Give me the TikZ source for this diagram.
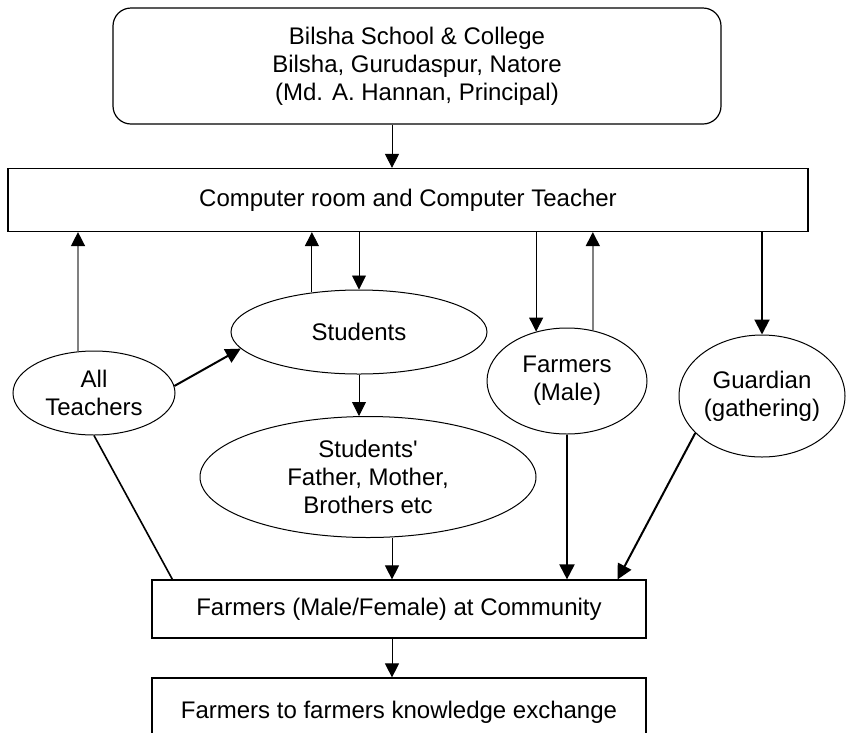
\documentclass[tikz,border=0pt]{standalone}
\usepackage{fontspec}
\setmainfont{Liberation Sans}
\usetikzlibrary{shapes.geometric,arrows.meta}

\begin{document}
\begin{tikzpicture}[x=1pt,y=-1pt,
        every node/.style={font=\fontsize{24}{28}\selectfont, align=center, inner sep=0pt},
        box/.style={draw, line width=1.2pt, rectangle},
        oval/.style={draw, line width=1pt, ellipse},
        thinarrow/.style={-{Triangle[length=14pt,width=14pt]}, line width=0.9pt},
        thickarrow/.style={-{Triangle[length=15pt,width=15pt]}, line width=2pt},
        greyarrow/.style={-{Triangle[length=14pt,width=14pt,color=black]}, line width=1.5pt, gray}]
        \useasboundingbox (0,0) rectangle (849,732);

        % the school on top and the computer room
        \node[box, rounded corners=18pt, minimum width=608pt, minimum height=116pt] (school) at (417,66) {Bilsha School \& College\\Bilsha, Gurudaspur, Natore\\(Md. A. Hannan, Principal)};
        \node[box, minimum width=800pt, minimum height=63pt] (comp) at (408,200) {Computer room and Computer Teacher};

        % the people
        \node[oval, minimum width=162pt, minimum height=84pt] (teach) at (94,393) {All\\Teachers};
        \node[oval, minimum width=256pt, minimum height=84pt] (stud) at (359,332) {Students};
        \node[oval, minimum width=336pt, minimum height=121pt] (par) at (368,477) {Students\textquotesingle\\Father, Mother,\\Brothers etc};
        \node[oval, minimum width=160pt, minimum height=106pt] (farm) at (567,381) {Farmers\\(Male)};
        \node[oval, minimum width=166pt, minimum height=122pt] (guard) at (762,396) {Guardian\\(gathering)};

        % community and exchange (the last box runs off the page)
        \node[box, minimum width=494pt, minimum height=58pt] (comm) at (399,609) {Farmers (Male/Female) at Community};
        \node[box, minimum width=494pt, minimum height=68pt] (xchg) at (399,712) {Farmers to farmers knowledge exchange};

        \coordinate (spine) at (392,0);

        % down the middle
        \draw[thinarrow] (school.south -| spine) -- (comp.north -| spine);
        \draw[thinarrow] (par.south -| spine) -- (comm.north -| spine);
        \draw[thinarrow] (comm.south -| spine) -- (xchg.north -| spine);

        % computer room and the people
        \draw[greyarrow] (teach.111) -- (teach.111 |- comp.south);
        \draw[thinarrow] (stud.140) -- (stud.140 |- comp.south);
        \draw[thinarrow] (comp.south -| stud.north) -- (stud.north);
        \draw[thinarrow] (comp.south -| farm.122) -- (farm.122);
        \draw[greyarrow] (farm.63) -- (farm.63 |- comp.south);
        \draw[thickarrow] (comp.south -| guard.north) -- (guard.north);

        % on to the community
        \draw[thickarrow] (teach.5) -- (stud.188);
        \draw[thinarrow] (stud.south) -- (par.north -| stud.south);
        \draw[line width=1.6pt] (teach.south) -- ([xshift=21pt]comm.north west);
        \draw[thickarrow] (farm.south) -- (comm.north -| farm.south);
        \draw[thickarrow] (guard.209) -- ([xshift=-29pt]comm.north east);
\end{tikzpicture}
\end{document}
